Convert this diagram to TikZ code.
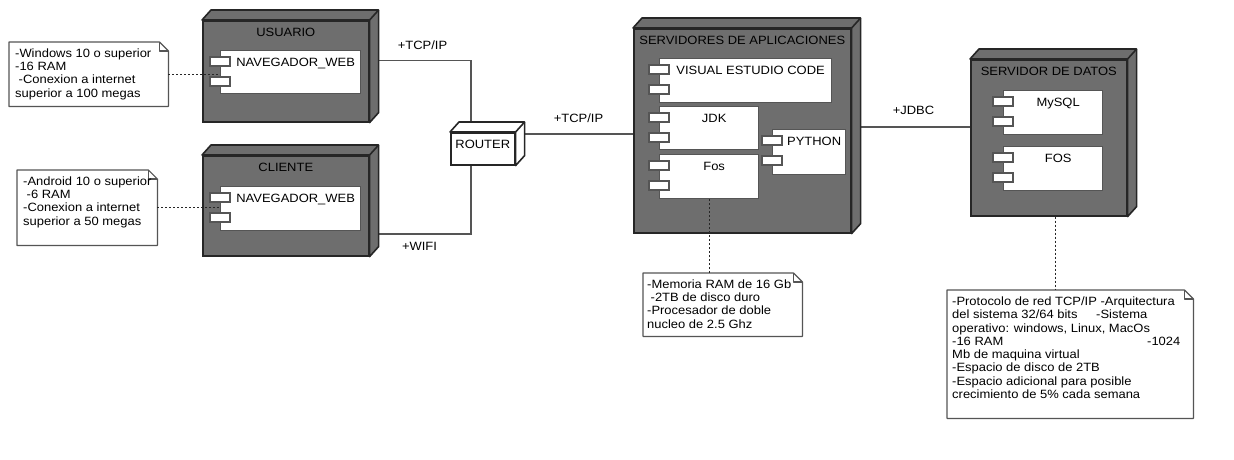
\documentclass[tikz,border=0pt]{standalone}
\usepackage{fontspec}
\setmainfont{Liberation Sans}[FakeStretch=1.08]
\usetikzlibrary{calc}

\definecolor{gris}{HTML}{6E6E6E}
\definecolor{borde}{HTML}{262626}
\definecolor{linea}{HTML}{555555}

\pgfdeclarelayer{fondo}
\pgfdeclarelayer{frente}
\pgfsetlayers{fondo,main,frente}

\begin{document}
\begin{tikzpicture}[
            x = 1pt, y = -1pt, % pixel coordinates, y going down
            font = \fontsize{12}{13.3}\selectfont,
            nodo/.style = {draw=borde, fill=gris, line width=1.6pt, anchor=north west, inner sep=0pt},
            cara/.style = {draw=borde, line width=1.6pt, line join=round},
            titulo/.style = {anchor=north, yshift=-8pt, inner sep=0pt},
            comp/.style = {draw=linea, fill=white, line width=1.3pt, anchor=north west, inner sep=0pt, minimum height=44},
            pestana/.style = {draw=linea, fill=white, line width=1.3pt},
            nota/.style = {anchor=north west, inner sep=0pt, minimum width=159},
            marco/.style = {draw=linea, fill=white, line width=1.2pt, line join=round},
            texto/.style = {anchor=north west, inner sep=0pt, align=left},
            conector/.style = {draw=linea, line width=1.5pt},
            punteado/.style = {draw=borde, line width=1.2pt, dash pattern=on 2pt off 2pt}
        ]
\useasboundingbox (0,0) rectangle (1234,460);

% nodes
\node[nodo, minimum width=166, minimum height=101, label={[titulo]north:USUARIO}] (usuario) at (202,20) {};
\node[nodo, minimum width=166, minimum height=100, label={[titulo]north:CLIENTE}] (cliente) at (202,155) {};
\node[nodo, fill=white, minimum width=64, minimum height=32, label={[titulo]north:ROUTER}] (router) at (450,132) {};
\node[nodo, minimum width=217, minimum height=204, label={[titulo]north:SERVIDORES DE APLICACIONES}] (servapp) at (633,28) {};
\node[nodo, minimum width=156, minimum height=156, label={[titulo]north:SERVIDOR DE DATOS}] (servdat) at (970,59) {};

% top and side of each box
\foreach \n/\c in {usuario/gris,cliente/gris,router/white,servapp/gris,servdat/gris}{
  \draw[cara, fill=\c] (\n.north west) -- ++(9,-10) -- ($(\n.north east)+(9,-10)$) -- ($(\n.south east)+(9,-10)$) -- (\n.south east) -- (\n.north east) -- cycle;
  \draw[cara] (\n.north east) -- ++(9,-10);
}

% notes
\node[nota, minimum height=64] (n1) at (9,42) {};
\node[nota, minimum width=140, minimum height=75] (n2) at (17,170) {};
\node[nota, minimum height=63] (n3) at (643,273) {};
\node[nota, minimum width=246, minimum height=128] (n4) at (947,290) {};
\foreach \n in {n1,n2,n3,n4}{
  \draw[marco] (\n.north west) -- ([xshift=-9pt]\n.north east) -- ([yshift=-9pt]\n.north east) -- (\n.south east) -- (\n.south west) -- cycle;
  \draw[marco, fill=none] ([xshift=-9pt]\n.north east) |- ([yshift=-9pt]\n.north east);
}
\node[texto] (t1) at ([shift={(6,6.5)}]n1.north west) {-Windows 10 o superior\\-16 RAM\\\hspace*{3.5pt}-Conexion a internet\\superior a 100 megas};
\node[texto] (t2) at ([shift={(6,6.5)}]n2.north west) {-Android 10 o superior\\\hspace*{3.5pt}-6 RAM\\-Conexion a internet\\superior a 50 megas};
\node[texto] (t3) at ([shift={(4,6.5)}]n3.north west) {-Memoria RAM de 16 Gb\\\hspace*{3.5pt}-2TB de disco duro\\-Procesador de doble\\nucleo de 2.5 Ghz};
\node[texto] (t4) at ([shift={(5,6.5)}]n4.north west) {-Protocolo de red TCP/IP -Arquitectura\\\makebox[144pt][l]{del sistema 32/64 bits}-Sistema\\operativo: windows, Linux, MacOs\\\makebox[195pt][l]{-16 RAM}-1024\\Mb de maquina virtual\\-Espacio de disco de 2TB\\-Espacio adicional para posible\\crecimiento de 5\% cada semana};

% link labels
\node (tcp1) at (422.5,45) {+TCP/IP};
\node (wifi) at (419.5,246) {+WIFI};
\node (tcp2) at (578.5,118) {+TCP/IP};
\node (jdbc) at (913.5,110) {+JDBC};

% components
\begin{pgfonlayer}{frente}
\node[comp, minimum width=140, minimum height=43, label={[titulo,xshift=5pt]north:NAVEGADOR\_WEB}] (nav1) at (220,50) {};
\node[comp, minimum width=140, label={[titulo,xshift=5pt]north:NAVEGADOR\_WEB}] (nav2) at (220,186) {};
\node[comp, minimum width=172, label={[titulo,xshift=5pt]north:VISUAL ESTUDIO CODE}] (vsc) at (659,58) {};
\node[comp, minimum width=99, minimum height=43, label={[titulo,xshift=5pt]north:JDK}] (jdk) at (659,106) {};
\node[comp, minimum width=99, label={[titulo,xshift=5pt]north:Fos}] (fos) at (659,154) {};
\node[comp, minimum width=73, minimum height=45, label={[titulo,xshift=5pt]north:PYTHON}] (python) at (772,129) {};
\node[comp, minimum width=99, label={[titulo,xshift=5pt]north:MySQL}] (mysql) at (1003,90) {};
\node[comp, minimum width=99, label={[titulo,xshift=5pt]north:FOS}] (fosdb) at (1003,146) {};
\foreach \c in {nav1,nav2,vsc,jdk,fos,python,mysql,fosdb}{
  \draw[pestana] ([shift={(-10,7)}]\c.north west) rectangle ++(20,9);
  \draw[pestana] ([shift={(-10,27)}]\c.north west) rectangle ++(20,9);
}
\end{pgfonlayer}

% dotted links to the notes
\draw[punteado] (n1.east) -- (n1.east -| nav1.west);
\draw[punteado] (n2.east) -- (n2.east -| nav2.west);
\draw[punteado] (fos.south) -- (fos.south |- n3.north);
\coordinate (d4) at ([xshift=7pt]servdat.south);
\draw[punteado] (d4) -- (d4 |- n4.north);

% network links
\begin{pgfonlayer}{fondo}
\fill[white] (0,0) rectangle (1234,460);
\coordinate (u1) at ([yshift=11pt]usuario.center);
\coordinate (c1) at ([yshift=-28pt]cliente.center);
\coordinate (r0) at ([xshift=-12pt]router.center);
\coordinate (r1) at ([yshift=15pt]router.center);
\coordinate (s1) at ([yshift=11pt]servdat.center);
\draw[conector] (u1) -| (r0);
\draw[conector] (c1) -| (r0);
\draw[conector] (r1) -- (r1 -| servapp.center);
\draw[conector] (s1) -- (s1 -| servapp.center);
\end{pgfonlayer}
\end{tikzpicture}
\end{document}
